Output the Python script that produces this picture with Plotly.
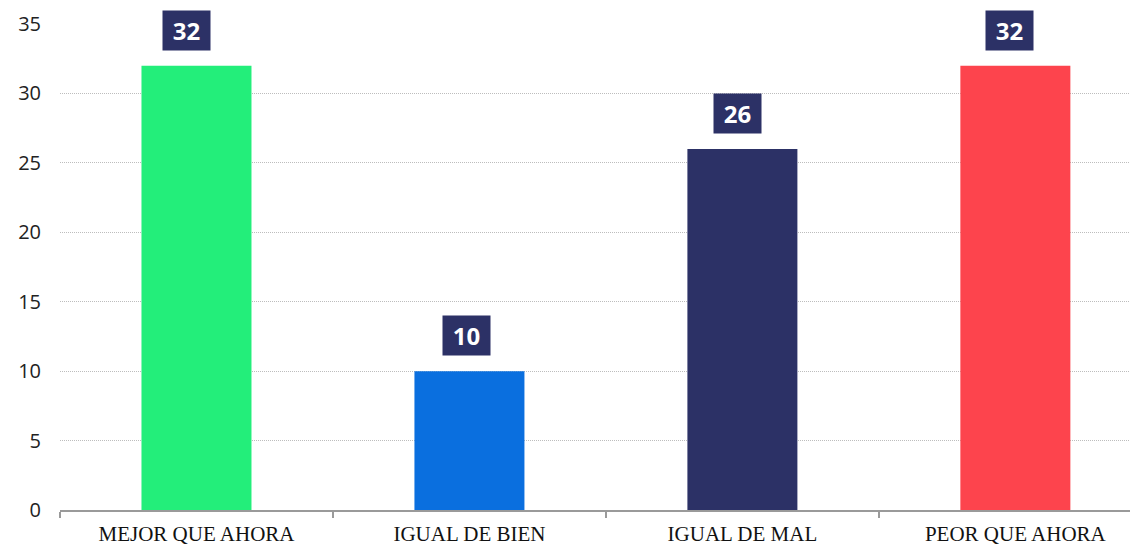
import plotly.graph_objects as go

categories = ["MEJOR QUE AHORA", "IGUAL DE BIEN", "IGUAL DE MAL", "PEOR QUE AHORA"]
values = [32, 10, 26, 32]
bar_colors = ["#23ee7a", "#0a6fdf", "#2c3166", "#fd444d"]
y_ticks = [0, 5, 10, 15, 20, 25, 30, 35]
label_xshift = [-10, -3, -5, -6]

fig = go.Figure()
fig.add_trace(go.Bar(
    x=categories, y=values, marker=dict(color=bar_colors, line=dict(width=0)),
    width=0.403, hoverinfo="x+y",
))

for c, v, dx in zip(categories, values, label_xshift):
    fig.add_annotation(
        x=c, y=v, text=f"<b>{v}</b>", showarrow=False,
        xanchor="center", yanchor="bottom", yshift=15, xshift=dx,
        font=dict(family="Open Sans", size=24, color="white"),
        bgcolor="#2c3166", borderpad=4, width=39, height=31,
    )

fig.update_layout(
    width=1130, height=544,
    margin=dict(l=60, r=0, t=24, b=34, autoexpand=False),
    paper_bgcolor="white", plot_bgcolor="white",
    showlegend=False,
    bargap=0.6,
)
fig.update_xaxes(
    type="category", range=[-0.5, 3.42], automargin=False,
    showline=True, linecolor="#9a9a9a", linewidth=2,
    ticks="outside", tickson="boundaries", ticklen=6, tickwidth=1.5, tickcolor="#9a9a9a",
    showgrid=False,
    tickfont=dict(family="Liberation Serif", size=21, color="#111"),
    ticklabelstandoff=4,
)
fig.update_yaxes(
    range=[0, 35], tickvals=y_ticks, automargin=False,
    showgrid=True, gridcolor="#bdbdbd", griddash="1px,1px", gridwidth=1,
    zeroline=False, showline=False,
    tickfont=dict(family="Open Sans", size=20, color="#222"),
    ticklabelstandoff=18,
)

fig.write_html(
    "out.html",
    config={"displayModeBar": False},
    post_script="document.body.style.margin='0';document.body.style.overflow='hidden';",
)
